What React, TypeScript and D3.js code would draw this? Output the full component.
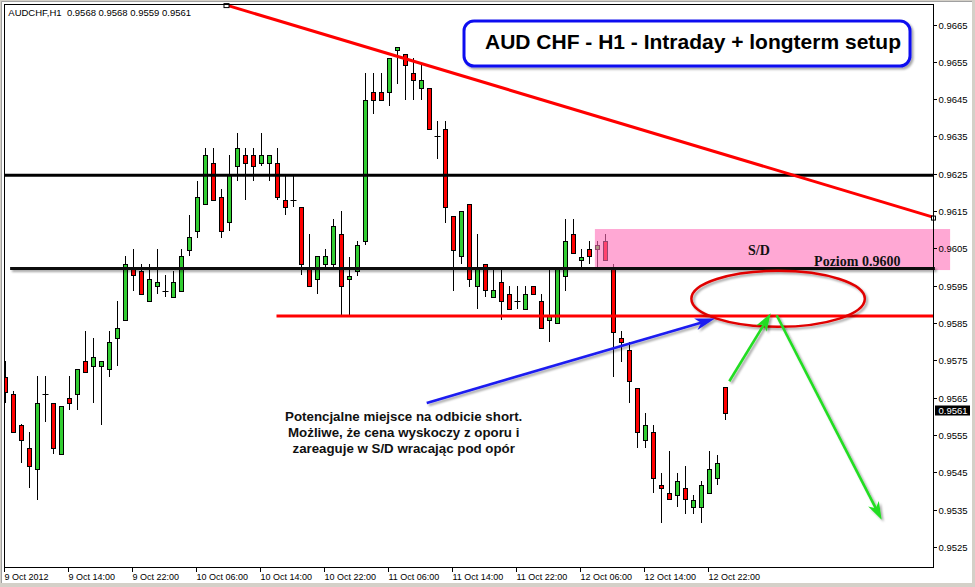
import React from "react";
import * as d3 from "d3";

// ---------- DATA (AUDCHF H1, bars from 9 Oct 2012 06:00) ----------
const opens = [
  0.95706, 0.95659, 0.95578, 0.95516, 0.95458, 0.9566, 0.95637, 0.95498, 0.95648, 0.95659,
  0.95748, 0.95735, 0.95735, 0.95728, 0.95809, 0.95857, 0.95999, 0.95989, 0.95908, 0.95948,
  0.95937, 0.95919, 0.95937, 0.96047, 0.96098, 0.96168, 0.96278, 0.96189, 0.9612, 0.9627,
  0.963, 0.963, 0.96278, 0.96278, 0.96278, 0.96179, 0.9618, 0.9616, 0.95999, 0.95967,
  0.96007, 0.96007, 0.96088, 0.95967, 0.95989, 0.96069, 0.96468, 0.96468, 0.96468, 0.96582,
  0.9657, 0.9652, 0.96479, 0.96479, 0.96352, 0.96369, 0.96138, 0.96029, 0.96168, 0.95948,
  0.96007, 0.95919, 0.95959, 0.95929, 0.9591, 0.95889, 0.95948, 0.95909, 0.95858, 0.95849,
  0.95977, 0.96088, 0.96019, 0.96049, 0.96049, 0.96069, 0.95999, 0.95809, 0.95777, 0.95676,
  0.95538, 0.95557, 0.95417, 0.95396, 0.95388, 0.95407, 0.95356, 0.95356, 0.95396, 0.95436,
  0.9568,
];
const highs = [
  0.95749, 0.95667, 0.95579, 0.95557, 0.95708, 0.95708, 0.95637, 0.95627, 0.95708, 0.95728,
  0.95829, 0.95809, 0.95748, 0.95829, 0.95909, 0.96029, 0.96048, 0.96007, 0.96007, 0.96048,
  0.95978, 0.95989, 0.96048, 0.96139, 0.9623, 0.96319, 0.96319, 0.96209, 0.963, 0.96359,
  0.96319, 0.96319, 0.96359, 0.963, 0.96319, 0.96249, 0.96249, 0.9616, 0.96088, 0.96029,
  0.96048, 0.96129, 0.9615, 0.96028, 0.9607, 0.96521, 0.96521, 0.96521, 0.96559, 0.96589,
  0.9657, 0.96559, 0.96541, 0.96479, 0.96391, 0.96391, 0.96138, 0.96149, 0.96168, 0.96088,
  0.96007, 0.95999, 0.95999, 0.95948, 0.95948, 0.95948, 0.95948, 0.95929, 0.95999, 0.95999,
  0.96129, 0.96129, 0.96049, 0.9607, 0.9607, 0.96088, 0.96007, 0.95828, 0.95798, 0.95676,
  0.95608, 0.95577, 0.95447, 0.95507, 0.95447, 0.95466, 0.95388, 0.95427, 0.95507, 0.95497,
  0.9568,
];
const lows = [
  0.95636, 0.95555, 0.95475, 0.95407, 0.95377, 0.95585, 0.95498, 0.95498, 0.95618, 0.95618,
  0.95718, 0.95636, 0.95578, 0.95706, 0.95735, 0.95857, 0.95936, 0.95929, 0.95908, 0.95929,
  0.95919, 0.95919, 0.95937, 0.96029, 0.96078, 0.96168, 0.96179, 0.96078, 0.96098, 0.9623,
  0.96179, 0.9623, 0.9627, 0.9623, 0.96179, 0.96139, 0.9616, 0.95978, 0.95949, 0.95929,
  0.95999, 0.95999, 0.95869, 0.95869, 0.95976, 0.96058, 0.96409, 0.96449, 0.96431, 0.9649,
  0.96449, 0.96449, 0.96449, 0.96369, 0.96289, 0.96119, 0.95936, 0.96007, 0.95947, 0.95889,
  0.95919, 0.95919, 0.95858, 0.95889, 0.95889, 0.95889, 0.95929, 0.95838, 0.95798, 0.95849,
  0.95936, 0.96039, 0.95999, 0.96007, 0.95999, 0.96019, 0.95706, 0.95746, 0.95637, 0.95516,
  0.95516, 0.95396, 0.95315, 0.95378, 0.95356, 0.95338, 0.95338, 0.95315, 0.95396, 0.95417,
  0.9559,
];
const closes = [
  0.95666, 0.95557, 0.95538, 0.95466, 0.95637, 0.95658, 0.95515, 0.95627, 0.95637, 0.95728,
  0.95718, 0.95758, 0.95748, 0.95798, 0.95838, 0.96007, 0.95978, 0.95929, 0.95967, 0.95959,
  0.95936, 0.95959, 0.96029, 0.9608, 0.96189, 0.963, 0.96179, 0.96098, 0.96249, 0.96319,
  0.96278, 0.9627, 0.963, 0.963, 0.96189, 0.9616, 0.96179, 0.96007, 0.95949, 0.96029,
  0.96029, 0.96109, 0.95948, 0.95977, 0.96058, 0.96449, 0.96449, 0.96449, 0.96559, 0.96589,
  0.96541, 0.965, 0.965, 0.96369, 0.96351, 0.9616, 0.96047, 0.96149, 0.95967, 0.95999,
  0.95938, 0.95938, 0.95909, 0.95889, 0.95909, 0.95929, 0.95929, 0.95838, 0.95869, 0.95999,
  0.96069, 0.96039, 0.96028, 0.96029, 0.96058, 0.96019, 0.95827, 0.95798, 0.95696, 0.95557,
  0.95577, 0.95436, 0.95407, 0.95378, 0.95427, 0.95378, 0.95377, 0.95417, 0.95458, 0.95476,
  0.9561,
];

const timeLabels = [
  "9 Oct 2012", "9 Oct 14:00", "9 Oct 22:00", "10 Oct 06:00", "10 Oct 14:00", "10 Oct 22:00",
  "11 Oct 06:00", "11 Oct 14:00", "11 Oct 22:00", "12 Oct 06:00", "12 Oct 14:00", "12 Oct 22:00",
];
const timeLabelBars = [0, 8, 16, 24, 32, 40, 48, 56, 64, 72, 80, 88];
const priceTicks = [
  0.9525, 0.9535, 0.9545, 0.9555, 0.9565, 0.9575, 0.9585, 0.9595, 0.9605, 0.9615, 0.9625,
  0.9635, 0.9645, 0.9655, 0.9665,
];
const lastPrice = 0.9561;
const headerText = "AUDCHF,H1  0.9568 0.9568 0.9559 0.9561";
const titleText = "AUD CHF - H1 - Intraday + longterm setup";
const noteLines = [
  "Potencjalne miejsce na odbicie short.",
  "Możliwe, że cena wyskoczy z oporu i",
  "zareaguje w S/D wracając pod opór",
];

// drawn objects (bar index, price)
const level9625 = 0.96246;
const level9600 = 0.95996;
const supportLevel = 0.95869;
const sdZone = [0.95992, 0.96102];
const trendStart = [27.65, 0.96702];
const trendEnd = [115.96, 0.96134];
const blueArrow = [[52.68, 0.95636], [88.71, 0.95862]];
const greenArrow1 = [[90.5, 0.95694], [95.68, 0.95876]];
const greenArrow2 = [[96.42, 0.95871], [109.55, 0.95323]];

function arrowHead(x1: number, y1: number, x2: number, y2: number, len: number, half: number) {
  const dx = x2 - x1, dy = y2 - y1, d = Math.hypot(dx, dy);
  const ux = dx / d, uy = dy / d, nx = -uy, ny = ux;
  const bx = x2 - ux * len, by = y2 - uy * len;
  const mx = x2 - ux * len * 0.72, my = y2 - uy * len * 0.72;
  return `M${x2},${y2}L${bx + nx * half},${by + ny * half}L${mx},${my}L${bx - nx * half},${by - ny * half}Z`;
}
function shorten(x1: number, y1: number, x2: number, y2: number, by: number) {
  const dx = x2 - x1, dy = y2 - y1, d = Math.hypot(dx, dy);
  return [x2 - (dx / d) * by, y2 - (dy / d) * by];
}

export default function App() {
  const W = 975, H = 587;
  const L = 4, T = 4, R = 933, B = 567;
  const x = d3.scaleLinear().domain([0, 116]).range([5.3, 933.3]);
  const y = d3.scaleLinear().domain([0.9525, 0.9665]).range([547.0, 24.5]);
  const cx = (i: number) => Math.round(x(i)) + 0.5;
  const green = "#32cd32";
  const red = "#ff0000";

  const candles = opens.map((o, i) => {
    const c = closes[i], h = highs[i], l = lows[i];
    const xc = cx(i);
    const yo = y(o), yc = y(c);
    const top = Math.min(yo, yc), bot = Math.max(yo, yc);
    const doji = bot - top < 1.5;
    return (
      <g key={i}>
        <line x1={xc} x2={xc} y1={Math.round(y(h))} y2={Math.round(y(l))} stroke="#000" strokeWidth={1} />
        {doji ? (
          <line x1={xc - 3} x2={xc + 3} y1={Math.round(top) + 0.5} y2={Math.round(top) + 0.5} stroke="#000" strokeWidth={1} />
        ) : (
          <rect x={xc - 2} width={4} y={Math.round(top) + 0.5} height={Math.max(1, Math.round(bot) - Math.round(top))}
            fill={c > o ? green : red} stroke="#000" strokeWidth={1} />
        )}
      </g>
    );
  });

  const tX1 = x(trendStart[0]), tY1 = y(trendStart[1]);
  const tX2 = x(trendEnd[0]), tY2 = y(trendEnd[1]);

  const arrows = [
    { p: blueArrow, color: "#1c1cf0", len: 20, half: 6 },
    { p: greenArrow1, color: "#22dd22", len: 18, half: 6 },
    { p: greenArrow2, color: "#22dd22", len: 18, half: 6 },
  ].map((a, k) => {
    const x1 = x(a.p[0][0]), y1 = y(a.p[0][1]), x2 = x(a.p[1][0]), y2 = y(a.p[1][1]);
    const [ex, ey] = shorten(x1, y1, x2, y2, a.len * 0.6);
    return (
      <g key={k} filter="url(#sh)">
        <line x1={x1} y1={y1} x2={ex} y2={ey} stroke={a.color} strokeWidth={2.6} />
        <path d={arrowHead(x1, y1, x2, y2, a.len, a.half)} fill={a.color} />
      </g>
    );
  });

  const ellCx = x(96.6), ellCy = y(0.95915);
  const ellRx = x(10.84) - x(0), ellRy = y(0.95915) - y(0.9599);
  const noteY0 = y(0.95588);

  return (
    <div>
      <style>{`html,body{margin:0;padding:0;background:#fff}`}</style>
      <svg width={W} height={H} style={{ display: "block" }} fontFamily="'Liberation Sans', Arial, sans-serif">
        <defs>
          <filter id="sh" filterUnits="userSpaceOnUse" x={0} y={0} width={W} height={H}>
            <feDropShadow dx={2} dy={2} stdDeviation={1.2} floodColor="#000" floodOpacity={0.35} />
          </filter>
          <clipPath id="plotClip">
            <rect x={L} y={T} width={R - L} height={B - T} />
          </clipPath>
        </defs>
        {/* window chrome */}
        <rect x={0} y={0} width={W} height={H} fill="#d4d0c8" />
        <rect x={2} y={2} width={970} height={581} fill="#fff" />
        <line x1={1.5} y1={1.5} x2={1.5} y2={583} stroke="#a0a0a0" />
        <line x1={1.5} y1={1.5} x2={972} y2={1.5} stroke="#a0a0a0" />

        {/* candles */}
        <g clipPath="url(#plotClip)">{candles}</g>

        {/* S/D zone */}
        <rect x={x(73.7)} y={y(sdZone[1])} width={x(118.1) - x(73.7)} height={y(sdZone[0]) - y(sdZone[1])}
          fill="#ff6eb7" opacity={0.6} />

        {/* horizontal levels */}
        <line x1={L} x2={R} y1={y(level9625)} y2={y(level9625)} stroke="#000" strokeWidth={3} />
        <line x1={x(0.6)} x2={x(116.2)} y1={y(level9600)} y2={y(level9600)} stroke="#111" strokeWidth={3} filter="url(#sh)" />
        <line x1={x(33.9)} x2={R} y1={y(supportLevel)} y2={y(supportLevel)} stroke="#ff0000" strokeWidth={3} />

        {/* trendline */}
        <line x1={tX1} y1={tY1} x2={tX2} y2={tY2} stroke="#ff0000" strokeWidth={3} />
        <rect x={tX1 - 2.5} y={tY1 - 1.5} width={5} height={4} fill="#fff" stroke="#000" strokeWidth={1} />
        <rect x={tX2 - 1.5} y={tY2 - 1} width={4} height={4} fill="#fff" stroke="#000" strokeWidth={1} />

        {/* ellipse */}
        <ellipse cx={ellCx} cy={ellCy} rx={ellRx} ry={ellRy} fill="none" stroke="#e00000" strokeWidth={2.5} filter="url(#sh)" />

        {arrows}

        {/* texts on chart */}
        <text x={x(94.2)} y={y(0.96032)} textAnchor="middle" fontFamily="'Liberation Serif', 'Times New Roman', serif"
          fontWeight="bold" fontSize={14} fill="#111">S/D</text>
        <text x={x(101.1)} y={y(0.96003)} fontFamily="'Liberation Serif', 'Times New Roman', serif"
          fontWeight="bold" fontSize={14} fill="#111">Poziom 0.9600</text>
        {noteLines.map((t, k) => (
          <text key={k} x={x(49.8)} y={noteY0 + k * 16.3} textAnchor="middle" fontWeight="bold" fontSize={13.3} fill="#111">
            {t}
          </text>
        ))}

        {/* title box */}
        <rect x={464} y={21} width={446} height={45} rx={10} ry={10} fill="#fff" stroke="#1010f0" strokeWidth={3} filter="url(#sh)" />
        <text x={485} y={48.5} fontWeight="bold" fontSize={21} fill="#000">{titleText}</text>

        {/* frame */}
        <line x1={L + 0.5} x2={L + 0.5} y1={T} y2={B + 4} stroke="#000" />
        <line x1={L} x2={R} y1={T + 0.5} y2={T + 0.5} stroke="#000" />
        <line x1={R + 0.5} x2={R + 0.5} y1={T} y2={B + 1} stroke="#000" />
        <line x1={L} x2={R + 1} y1={B + 0.5} y2={B + 0.5} stroke="#000" />

        {/* header */}
        <text x={8.3} y={16} fontSize={9.5} fill="#000" style={{ whiteSpace: "pre" }}>{headerText}</text>

        {/* price axis */}
        {priceTicks.map((p) => {
          const yy = Math.round(y(p)) + 0.5;
          return (
            <g key={p}>
              <line x1={R + 1} x2={R + 4} y1={yy} y2={yy} stroke="#000" />
              <text x={R + 5.5} y={yy} dy="0.35em" fontSize={9.5} fill="#000">{d3.format(".4f")(p)}</text>
            </g>
          );
        })}
        <rect x={R + 2} y={405.5} width={35} height={10} fill="#000" />
        <text x={R + 5.5} y={410.5} dy="0.35em" fontSize={9.5} fill="#fff">{d3.format(".4f")(lastPrice)}</text>

        {/* time axis */}
        {timeLabelBars.map((b, k) => {
          const xx = cx(b) - 1;
          return (
            <g key={b}>
              <line x1={xx} x2={xx} y1={B + 1} y2={B + 5} stroke="#000" />
              <text x={xx} y={580} fontSize={9} fill="#000">{timeLabels[k]}</text>
            </g>
          );
        })}
      </svg>
    </div>
  );
}
